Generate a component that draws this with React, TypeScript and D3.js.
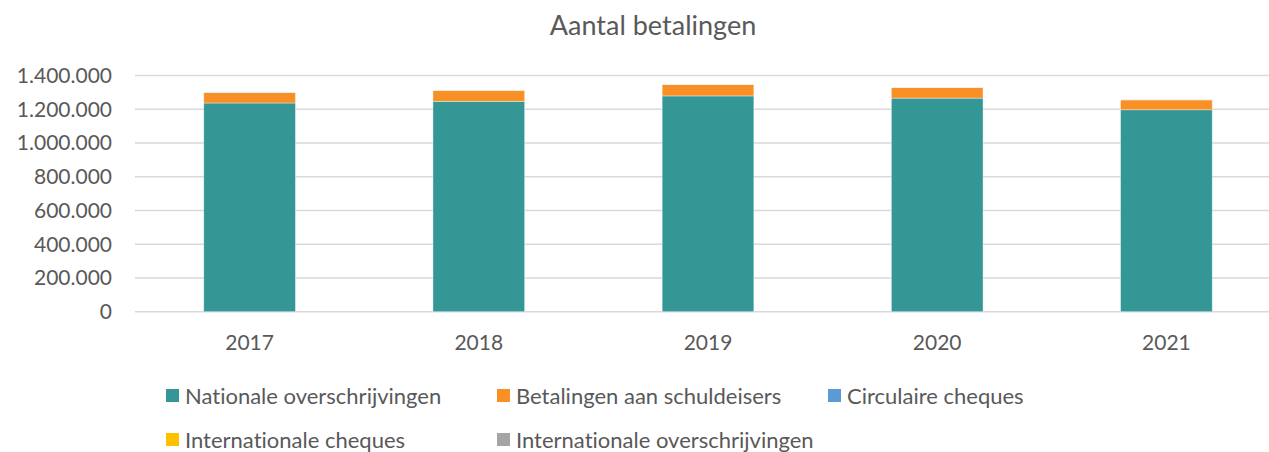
import React from "react";
import * as d3 from "d3";

const years = ["2017", "2018", "2019", "2020", "2021"];
const nationaleOverschrijvingen = [1237000, 1247000, 1279000, 1266000, 1197000];
const betalingenSchuldeisers = [63000, 65000, 68000, 63000, 59000];
const circulaireCheques = [300, 300, 200, 200, 100];
const internationaleCheques = [100, 100, 100, 100, 100];
const internationaleOverschrijvingen = [900, 900, 800, 700, 700];
const yTicks = [0, 200000, 400000, 600000, 800000, 1000000, 1200000, 1400000];

const seriesNames = [
  "Nationale overschrijvingen",
  "Betalingen aan schuldeisers",
  "Circulaire cheques",
  "Internationale cheques",
  "Internationale overschrijvingen",
];
const seriesColors = ["#349795", "#F99025", "#5B9BD5", "#FFC000", "#A5A5A5"];

const W = 1269;
const H = 452;
const FONT = "Lato, 'Noto Sans', sans-serif";
const TEXT = "#595959";

export default function App() {
  const seriesData = [
    nationaleOverschrijvingen,
    betalingenSchuldeisers,
    circulaireCheques,
    internationaleCheques,
    internationaleOverschrijvingen,
  ];
  const rows = years.map((y, i) => {
    const r: any = { year: y };
    seriesNames.forEach((n, s) => (r[n] = seriesData[s][i]));
    return r;
  });
  const stacked = d3.stack<any>().keys(seriesNames)(rows);

  const x = d3.scaleBand().domain(years).range([135, 1281]).paddingInner(0.6).paddingOuter(0.3);
  const y = d3.scaleLinear().domain([0, 1400000]).range([311.7, 75.5]);
  const fmt = (v: number) => (v === 0 ? "0" : d3.format(",")(v).replace(/,/g, "."));

  const legendCols = [166, 497, 828];
  const legendRows = [396, 440];

  return (
    <svg
      width={W}
      height={H}
      style={{ position: "absolute", left: 0, top: 0, background: "#fff", fontVariantLigatures: "none" }}
    >
      <text x={653} y={35} textAnchor="middle" fontFamily={FONT} fontSize={27} fill={TEXT}>
        Aantal betalingen
      </text>
      {yTicks.map((t) => (
        <g key={t}>
          <line x1={135} x2={1281} y1={y(t)} y2={y(t)} stroke="#D9D9D9" strokeWidth={1.5} />
          <text x={112} y={y(t)} dy="0.35em" textAnchor="end" fontFamily={FONT} fontSize={21} fill={TEXT}>
            {fmt(t)}
          </text>
        </g>
      ))}
      {stacked.map((s, si) => (
        <g key={s.key} fill={seriesColors[si]}>
          {s.map((d, i) => (
            <rect
              key={i}
              x={x(years[i])!}
              width={x.bandwidth()}
              y={y(d[1])}
              height={Math.max(0, y(d[0]) - y(d[1]))}
              stroke="#fff"
              strokeOpacity={0.5}
              strokeWidth={0.75}
            />
          ))}
        </g>
      ))}
      {years.map((yr) => (
        <text key={yr} x={x(yr)! + x.bandwidth() / 2} y={350} textAnchor="middle" fontFamily={FONT} fontSize={21} fill={TEXT}>
          {yr}
        </text>
      ))}
      {seriesNames.map((n, i) => {
        const cx = legendCols[i % 3];
        const cy = legendRows[Math.floor(i / 3)];
        return (
          <g key={n}>
            <rect x={cx} y={cy - 7} width={13} height={13} fill={seriesColors[i]} />
            <text x={cx + 19} y={cy} dy="0.35em" fontFamily={FONT} fontSize={22} fill={TEXT}>
              {n}
            </text>
          </g>
        );
      })}
    </svg>
  );
}
